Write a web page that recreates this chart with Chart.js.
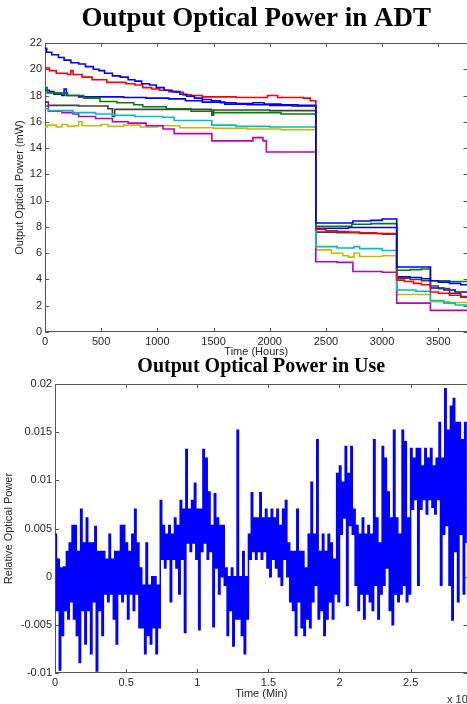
<!DOCTYPE html>
<html>
<head>
<meta charset="utf-8">
<script src="https://cdn.jsdelivr.net/npm/chart.js@4.4.1/dist/chart.umd.min.js"></script>
<style>
	html, body { margin: 0; padding: 0; background: #fff; overflow: hidden; width: 467px; height: 704px; }
	#adtBox { position: absolute; left: 0; top: 0; width: 470px; height: 360px; }
	#useBox { position: absolute; left: 0; top: 355px; width: 470px; height: 349px; }
</style>
</head>
<body>
<div id="adtBox"><canvas id="adtChart"></canvas></div>
<div id="useBox"><canvas id="useChart"></canvas></div>
<script>
// ADT: [hours, mW], each value holds until the next point
const adtBlueA = [[0,21.6],[15,21.3],[60,21.1],[120,20.9],[170,20.7],[230,20.5],[300,20.4],[360,20.2],[430,20.0],[480,19.9],[530,19.7],[600,19.5],[670,19.4],[740,19.2],[800,19.1],[860,18.9],[930,18.8],[990,18.6],[1060,18.4],[1130,18.3],[1200,18.1],[1260,17.95],[1330,17.8],[1400,17.7],[1480,17.6],[1560,17.45],[1700,17.4],[1850,17.45],[1950,17.35],[2100,17.3],[2250,17.25],[2410,8.3],[2740,8.45],[2900,8.5],[3000,8.6],[3130,4.95],[3430,3.9],[3500,3.8],[3600,3.7],[3700,3.6],[3760,3.55]];
const adtGreen = [[0,18.6],[20,18.2],[200,18.0],[345,17.8],[490,17.55],[640,17.45],[790,17.3],[870,17.15],[1080,17.0],[1300,16.8],[1500,16.7],[2100,16.6],[2410,8.05],[2730,8.2],[2900,8.25],[3130,4.7],[3250,4.75],[3350,4.8],[3430,3.9],[3600,3.85],[3760,3.8]];
const adtRed = [[0,20.1],[40,19.9],[100,19.7],[200,19.6],[230,19.9],[250,19.6],[330,19.4],[420,19.2],[550,19.0],[720,18.9],[800,18.8],[870,18.6],[950,18.5],[1020,18.4],[1100,18.3],[1170,18.25],[1230,18.05],[1300,18.0],[1400,17.9],[1700,17.85],[1980,18.0],[2070,17.85],[2300,17.8],[2360,17.6],[2410,7.8],[2500,7.7],[2600,7.65],[2700,7.6],[2800,7.55],[2950,7.5],[3130,3.95],[3200,3.85],[3280,3.7],[3350,3.6],[3430,3.05],[3500,2.95],[3600,2.8],[3700,2.7],[3760,2.65]];
const adtCyan = [[0,17.0],[30,16.85],[250,16.7],[450,16.6],[600,16.5],[800,16.4],[1050,16.35],[1150,16.1],[1485,15.75],[1700,15.65],[2000,15.6],[2410,6.5],[2600,6.4],[2750,6.5],[2800,6.35],[3000,6.2],[3130,3.2],[3300,3.1],[3430,2.4],[3550,2.2],[3650,2.05],[3760,1.95]];
const adtMagenta = [[0,17.2],[30,16.8],[150,16.7],[250,16.6],[300,16.4],[450,16.25],[600,16.0],[740,15.9],[900,15.7],[1050,15.45],[1150,15.1],[1485,14.55],[1850,14.8],[1940,14.55],[1970,13.7],[2410,5.35],[2600,5.3],[2740,4.6],[3000,4.55],[3130,2.2],[3430,1.65],[3760,1.65]];
const adtYellow = [[0,15.6],[20,15.75],[100,15.6],[150,15.8],[200,15.65],[260,15.7],[300,16.0],[330,15.7],[500,15.8],[560,15.65],[700,15.75],[850,15.6],[1000,15.7],[1200,15.55],[1500,15.5],[1800,15.45],[2100,15.4],[2410,6.25],[2550,6.0],[2650,5.8],[2700,5.7],[2750,6.0],[2800,5.75],[3000,5.8],[3130,2.85],[3430,2.3],[3600,2.25],[3760,2.2]];
const adtBlack = [[0,17.5],[30,17.25],[300,17.2],[560,17.0],[600,16.4],[620,16.95],[1000,16.95],[1480,16.9],[1485,16.5],[1500,16.9],[2000,16.85],[2410,7.6],[2600,7.55],[2800,7.5],[3000,7.45],[3130,4.1],[3250,4.0],[3350,3.9],[3430,3.5],[3500,3.3],[3600,2.95],[3700,2.65],[3760,2.45]];
const adtBlueB = [[0,18.4],[40,18.3],[80,18.1],[150,18.0],[170,18.5],[190,18.0],[300,17.9],[500,17.9],[700,17.85],[900,17.8],[1100,17.75],[1250,17.6],[1400,17.5],[1600,17.35],[1800,17.3],[2000,17.25],[2200,17.2],[2410,7.9],[2700,7.95],[3130,4.2],[3250,4.15],[3350,4.05],[3430,3.35],[3550,3.2],[3650,3.05],[3760,2.95]];

const adtHourTicks = [0, 500, 1000, 1500, 2000, 2500, 3000, 3500];
const adtPowerTicks = [0, 2, 4, 6, 8, 10, 12, 14, 16, 18, 20, 22];

// In use: one sample every 0.01 (x10^4 min), values in units of 1e-3
const useStepMin = 0.01;
const useRelPower = [
	4.4, -3.5, 1.8, -9.7, 0.9, -6.1, 1.0, -3.5, 2.6, -4.4,
	3.5, -2.6, 5.3, -4.4, 5.3, -6.1, 2.6, -8.9, 7.0, -3.5,
	3.5, -7.0, 6.1, -3.5, 3.5, -8.0, 3.5, -2.6, 5.2, -9.8,
	2.6, -3.5, 2.6, -6.1, 2.6, -1.8, 1.8, -2.6, 4.4, -1.8,
	1.8, -4.4, 2.6, -7.0, 2.6, -1.8, 5.3, -2.6, 5.3, -1.8,
	3.5, -4.4, 2.6, -1.8, 4.4, -3.5, 7.0, -1.8, 3.5, -5.3,
	0.9, -5.3, -0.9, -8.0, 3.5, -6.1, -0.9, -7.0, 0.0, -5.3,
	0.0, -8.0, -0.9, -5.3, 7.9, 1.8, 5.3, 0.9, 4.4, 1.8,
	5.3, -2.6, 4.4, 1.8, 6.1, 0.9, 5.3, -1.8, 7.9, 1.8,
	7.0, -5.8, 13.2, 3.5, 7.0, 2.6, 7.9, 3.5, 9.7, 1.8,
	7.0, -5.5, 7.0, 2.6, 13.2, 3.5, 12.3, 1.8, 8.8, 2.6,
	5.3, -5.2, 8.6, 0.9, 6.1, -1.8, 5.3, 0.0, 5.3, -0.9,
	0.9, -6.1, 0.0, -3.5, 0.9, -7.2, 0.0, -4.4, 15.2, -4.4,
	0.0, -6.1, 2.6, -8.0, 0.0, -4.4, 4.4, 1.8, 8.7, 2.6,
	6.1, 1.8, 6.1, 2.6, 8.7, 1.8, 6.1, 2.6, 7.0, 0.9,
	6.1, 0.0, 7.0, 1.8, 6.1, 0.9, 7.0, 0.0, 5.3, -0.9,
	7.0, 1.8, 7.9, 0.0, 3.5, -2.6, 2.6, -3.5, 2.6, -6.1,
	7.0, -2.6, 2.6, -5.3, 2.6, -6.1, 0.9, -4.4, 4.4, -5.3,
	9.8, -2.6, 4.4, -0.9, 14.2, -4.4, 2.6, -3.5, 4.4, -6.1,
	2.6, -4.4, 4.4, -2.6, 3.5, -4.4, 1.8, -1.8, 10.7, -2.6,
	11.5, 4.4, 9.8, 6.1, 13.5, -3.0, 10.7, 5.3, 13.5, 4.4,
	7.0, -0.9, 5.3, -3.5, 4.4, -1.8, 6.1, -4.4, 4.4, -1.8,
	5.3, -2.6, 4.4, -3.5, 14.2, -0.9, 6.1, -4.4, 3.5, -1.8,
	13.5, -0.9, 12.3, 0.9, 8.8, -3.5, 6.1, -5.0, 15.2, -1.8,
	6.1, -2.6, 4.4, -1.8, 15.2, -0.9, 14.0, -2.6, 6.1, -1.8,
	13.3, 7.0, 12.3, 8.0, 13.3, -0.9, 13.3, 7.0, 11.5, 8.0,
	13.3, 6.5, 12.3, 8.0, 13.3, 7.2, 11.5, 6.5, 12.3, 8.0,
	16.0, -0.9, 12.3, 4.4, 19.5, 5.3, 15.2, -0.9, 17.7, -4.5,
	18.5, 2.6, 16.0, -2.6, 16.0, 4.4, 14.2, -1.8, 16.0, 3.5
];

const useMinTicks = [0, 0.5, 1, 1.5, 2, 2.5];
const useRelTicks = [-0.01, -0.005, 0, 0.005, 0.01, 0.015, 0.02];

(() => {
	'use strict'

	const textColor = '#262626';
	const boxColor = '#555555';
	Chart.defaults.font.family = '"Liberation Sans", Arial, sans-serif';
	Chart.defaults.font.size = 11;
	Chart.defaults.color = textColor;

	// full box with inward ticks on all four sides
	const matlabBox = {
		id: 'matlabBox',
		beforeDatasetsDraw(chart) {
			const { ctx, chartArea: a, scales: { x, y } } = chart;
			ctx.save();
			ctx.strokeStyle = boxColor;
			ctx.lineWidth = 1;
			ctx.strokeRect(Math.round(a.left) + 0.5, Math.round(a.top) + 0.5, Math.round(a.right - a.left), Math.round(a.bottom - a.top) - 1);
			ctx.beginPath();
			x.ticks.forEach((t) => {
				const px = Math.round(x.getPixelForValue(t.value)) + 0.5;
				ctx.moveTo(px, a.top);
				ctx.lineTo(px, a.top + 4);
				ctx.moveTo(px, a.bottom);
				ctx.lineTo(px, a.bottom - 4);
			});
			y.ticks.forEach((t) => {
				const py = Math.round(y.getPixelForValue(t.value)) + 0.5;
				ctx.moveTo(a.left, py);
				ctx.lineTo(a.left + 4, py);
				ctx.moveTo(a.right, py);
				ctx.lineTo(a.right - 4, py);
			});
			ctx.stroke();
			ctx.restore();
		}
	};

	function axisOptions(ticks, min, max, size, title, titlePad, isX) {
		return {
			type: 'linear',
			min,
			max,
			afterBuildTicks: (scale) => { scale.ticks = ticks.map((v) => ({ value: v })); },
			afterFit: (scale) => {
				if (isX) { scale.height = size; } else { scale.width = size; }
			},
			grid: { display: false, drawTicks: false },
			border: { display: false },
			ticks: {
				padding: 3,
				maxRotation: 0,
				autoSkip: false,
				color: textColor,
				callback: (v) => String(v)
			},
			title: {
				display: true,
				text: title,
				color: textColor,
				font: { size: 11 },
				padding: titlePad
			}
		};
	}

	function titleOptions(text, size, pad) {
		return {
			display: true,
			text,
			fullSize: false,
			color: '#000',
			font: { family: '"Liberation Serif", "Times New Roman", serif', size, weight: 'bold', lineHeight: 1.2 },
			padding: pad
		};
	}

	const adtColors = [
		[adtBlueA, '#0000ff'],
		[adtGreen, '#008000'],
		[adtRed, '#ff0000'],
		[adtCyan, '#00bfbf'],
		[adtMagenta, '#bf00bf'],
		[adtYellow, '#bfbf00'],
		[adtBlack, '#404040'],
		[adtBlueB, '#0000ff']
	];

	new Chart(document.getElementById('adtChart'), {
		type: 'line',
		data: {
			datasets: adtColors.map(([points, color]) => ({
				data: points,
				borderColor: color,
				borderWidth: 1.6,
				pointRadius: 0,
				stepped: 'before',
				fill: false
			}))
		},
		options: {
			responsive: true,
			maintainAspectRatio: false,
			animation: false,
			events: [],
			layout: { padding: { left: 0, right: 2.5, top: 0, bottom: 0 } },
			plugins: {
				legend: { display: false },
				tooltip: { enabled: false },
				title: titleOptions('Output Optical Power in ADT', 27, { top: 3, bottom: 7.6 })
			},
			scales: {
				x: axisOptions(adtHourTicks, 0, 3760, 28, 'Time (Hours)', { top: 0, bottom: 1.4 }, true),
				y: axisOptions(adtPowerTicks, 0, 22, 45, 'Output Optical Power (mW)', { top: 13.4, bottom: 0 }, false)
			}
		},
		plugins: [matlabBox]
	});

	const exponentLabel = {
		id: 'exponentLabel',
		afterDraw(chart) {
			const { ctx } = chart;
			ctx.save();
			ctx.fillStyle = textColor;
			ctx.textBaseline = 'middle';
			ctx.font = '11px "Liberation Sans", Arial, sans-serif';
			ctx.fillText('x 10', 447, 345);
			ctx.font = '8px "Liberation Sans", Arial, sans-serif';
			ctx.fillText('4', 468, 340);
			ctx.restore();
		}
	};

	new Chart(document.getElementById('useChart'), {
		type: 'line',
		data: {
			datasets: [{
				data: useRelPower.map((v, i) => ({ x: i * useStepMin, y: v / 1000 })),
				borderColor: '#0000ff',
				borderWidth: 1.5,
				pointRadius: 0,
				stepped: 'before',
				fill: false
			}]
		},
		options: {
			responsive: true,
			maintainAspectRatio: false,
			animation: false,
			events: [],
			layout: { padding: { left: 0, right: 2.5, top: 0, bottom: 0 } },
			plugins: {
				legend: { display: false },
				tooltip: { enabled: false },
				title: titleOptions('Output Optical Power in Use', 20, { top: 0, bottom: 5 })
			},
			scales: {
				x: axisOptions(useMinTicks, 0, 2.9, 31, 'Time (Min)', { top: 0, bottom: 3 }, true),
				y: axisOptions(useRelTicks, -0.01, 0.02, 55, 'Relative Optical Power', { top: 2.4, bottom: 0 }, false)
			}
		},
		plugins: [matlabBox, exponentLabel]
	});
})()
</script>
</body>
</html>
